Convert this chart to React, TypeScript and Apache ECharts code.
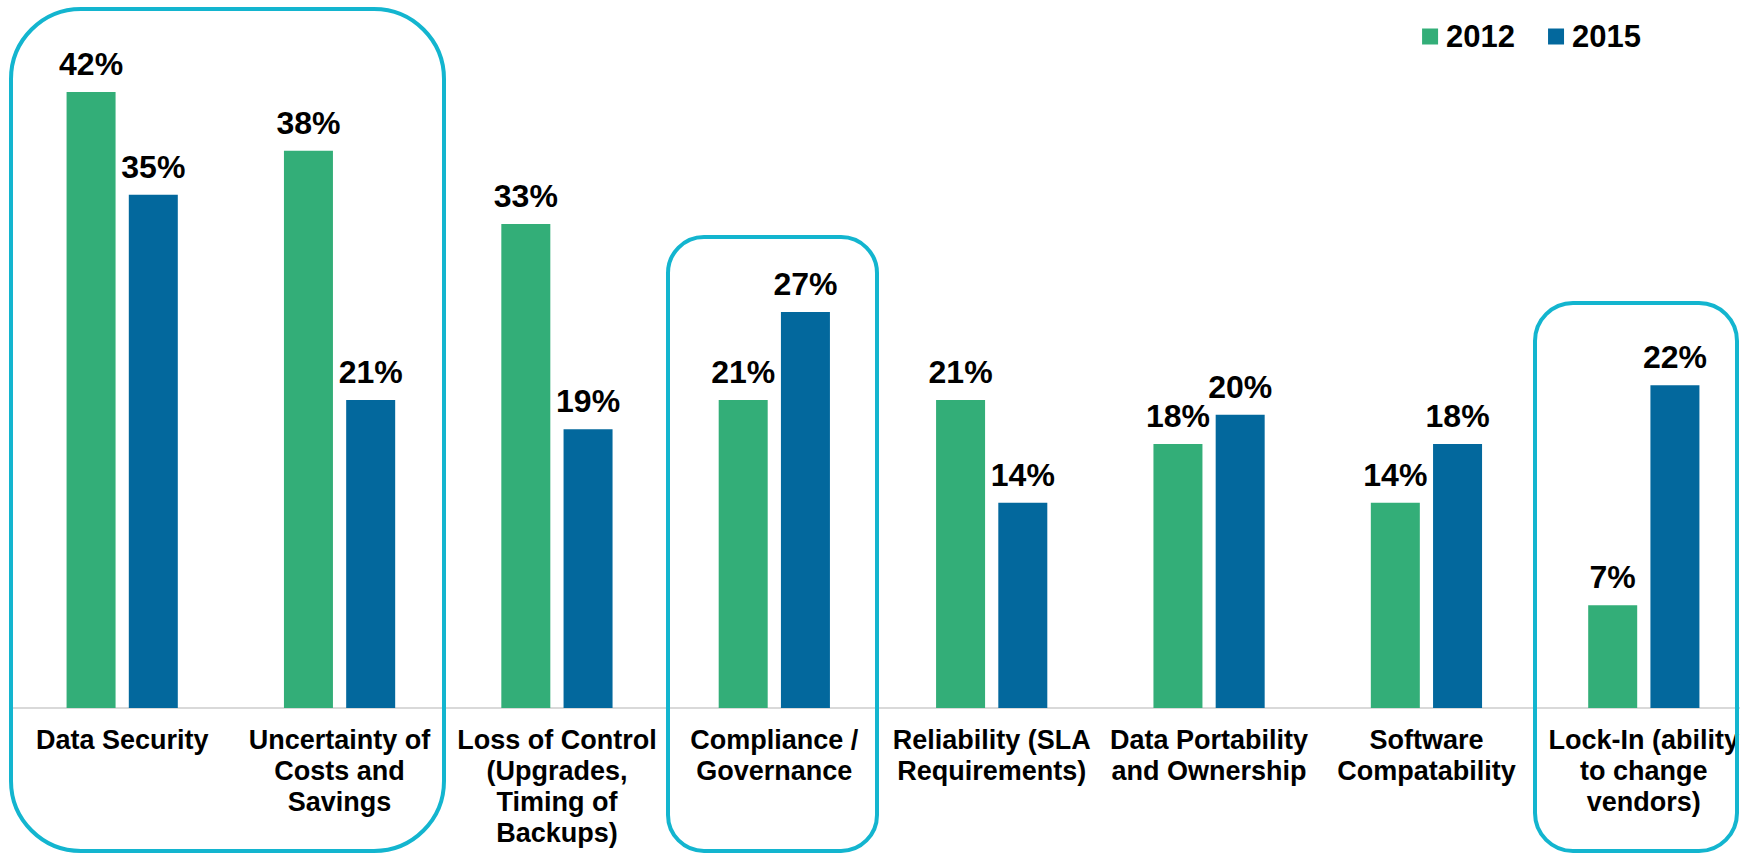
import React, { useEffect, useRef } from "react";
import * as echarts from "echarts";

const categories = [
  "Data Security",
  "Uncertainty of\nCosts and\nSavings",
  "Loss of Control\n(Upgrades,\nTiming of\nBackups)",
  "Compliance /\nGovernance",
  "Reliability (SLA\nRequirements)",
  "Data Portability\nand Ownership",
  "Software\nCompatability",
  "Lock-In (ability\nto change\nvendors)",
];
const values2012 = [42, 38, 33, 21, 21, 18, 14, 7];
const values2015 = [35, 21, 19, 27, 14, 20, 18, 22];
const seriesNames = ["2012", "2015"];

const GREEN = "#33AE78";
const BLUE = "#03689D";
const CYAN = "#13B5CF";
const FONT = "'Liberation Sans', Arial, Helvetica, sans-serif";

export default function App() {
  const ref = useRef<HTMLDivElement>(null);
  useEffect(() => {
    if (!ref.current) return;
    const chart = echarts.init(ref.current, undefined, { renderer: "svg" });
    const labelCfg = {
      show: true,
      position: "top",
      distance: 12,
      formatter: "{c}%",
      color: "#000",
      fontWeight: "bold",
      fontSize: 32,
      fontFamily: FONT,
    };
    chart.setOption({
      animation: false,
      backgroundColor: "#fff",
      legend: {
        data: seriesNames,
        right: 94,
        top: 16,
        icon: "rect",
        itemWidth: 16,
        itemHeight: 16,
        itemGap: 33,
        textStyle: {
          color: "#000",
          fontWeight: "bold",
          fontSize: 31,
          fontFamily: FONT,
          padding: [0, 0, 0, 3],
        },
      },
      grid: {
        left: 13.5,
        width: 1739,
        top: 48,
        bottom: 146,
        containLabel: false,
        outerBoundsMode: "none",
      },
      xAxis: {
        type: "category",
        data: categories,
        axisTick: { show: false },
        axisLine: { show: true, lineStyle: { color: "#D9D9D9", width: 2 } },
        axisLabel: {
          interval: 0,
          margin: 16,
          color: "#000",
          fontWeight: "bold",
          fontSize: 27,
          lineHeight: 31,
          fontFamily: FONT,
          align: "center",
        },
      },
      yAxis: {
        type: "value",
        min: 0,
        max: 45,
        show: false,
        splitLine: { show: false },
      },
      series: [
        {
          name: seriesNames[0],
          type: "bar",
          data: values2012,
          barWidth: 49,
          barGap: "27%",
          itemStyle: { color: GREEN },
          label: labelCfg,
        },
        {
          name: seriesNames[1],
          type: "bar",
          data: values2015,
          barWidth: 49,
          barGap: "27%",
          itemStyle: { color: BLUE },
          label: labelCfg,
        },
      ],
      graphic: [
        {
          type: "rect",
          z: 10,
          shape: { x: 11, y: 9, width: 433, height: 842, r: 70 },
          style: { fill: "none", stroke: CYAN, lineWidth: 4 },
        },
        {
          type: "rect",
          z: 10,
          shape: { x: 668, y: 237, width: 209, height: 614, r: 36 },
          style: { fill: "none", stroke: CYAN, lineWidth: 4 },
        },
        {
          type: "rect",
          z: 10,
          shape: { x: 1535, y: 303, width: 202, height: 548, r: 38 },
          style: { fill: "none", stroke: CYAN, lineWidth: 4 },
        },
      ],
    });
    return () => chart.dispose();
  }, []);
  return (
    <div
      ref={ref}
      style={{ position: "fixed", left: 0, top: 0, width: 1740, height: 854 }}
    />
  );
}
